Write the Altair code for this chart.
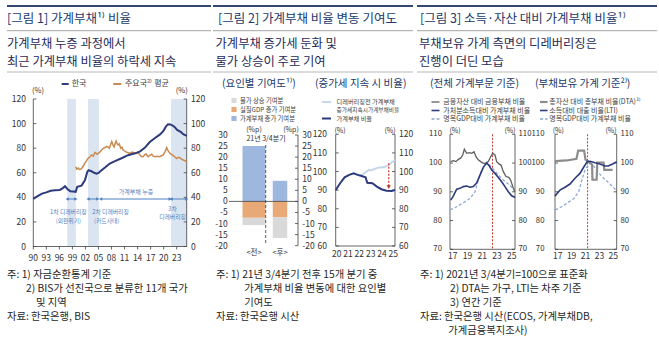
import altair as alt
import pandas as pd

FONT = "Noto Sans CJK KR"
NAVY = "#2d3b7c"
ORANGE = "#c98b50"
SHADE = "#dbe5f1"
ANN = "#4f7fbf"
BAR_BLUE = "#9db7df"
BAR_ORANGE = "#e9a977"
BAR_GRAY = "#d9d9d9"
LIGHT = "#c3d3ea"
RED = "#c0392b"
GRAY_DARK = "#5f5f5f"
GRAY_MID = "#8c8c8c"
DASH_BLUE = "#8fa9d6"
AX = "#404040"
AX_TXT = "#333333"
TITLE = "#213a6b"
SUB = "#1f2b57"
NOTE = "#262626"
LEG = "#404040"

# ---------------- data: panel 1 ----------------
kr_year = [1990.0, 1991.0, 1992.0, 1993.0, 1994.0, 1995.0, 1996.1, 1996.8, 1997.3, 1997.9,
           1998.5, 1999.2, 1999.75, 2000.1, 2001.1, 2001.9, 2002.4, 2002.7, 2003.4, 2004.0,
           2004.6, 2005.1, 2005.5, 2006.5, 2007.6, 2008.8, 2010.3, 2011.8, 2013.4, 2014.5,
           2015.7, 2016.8, 2018.0, 2019.1, 2019.9, 2020.5, 2021.0, 2021.5, 2021.9, 2022.5,
           2023.1, 2023.9, 2024.5, 2025.3]
kr_val = [38.7, 41.0, 43.0, 44.0, 45.3, 45.8, 46.0, 47.5, 49.0, 46.5,
          45.0, 44.8, 44.5, 48.5, 49.5, 54.0, 60.5, 62.0, 61.2, 60.0,
          59.3, 60.0, 61.5, 64.2, 67.5, 69.5, 71.8, 74.3, 75.8, 77.2,
          80.5, 85.0, 88.3, 91.0, 93.8, 97.5, 99.5, 99.3, 98.7, 97.3,
          94.8, 93.3, 91.3, 90.0]
adv_year = [1999.75, 2000.0, 2000.35, 2000.7, 2001.1, 2001.5, 2001.9, 2002.3, 2002.65, 2003.0,
            2003.4, 2003.8, 2004.2, 2004.7, 2005.0, 2005.35, 2005.7, 2006.1, 2006.5, 2006.9,
            2007.2, 2007.5, 2007.8, 2008.05, 2008.35, 2008.6, 2008.85, 2009.05, 2009.3, 2009.55,
            2009.8, 2010.1, 2010.4, 2010.7, 2011.1, 2011.5, 2011.9, 2012.25, 2012.7, 2013.2,
            2013.6, 2013.95, 2014.3, 2014.55, 2014.9, 2015.3, 2015.6, 2015.95, 2016.2, 2016.45,
            2016.8, 2017.25, 2017.6, 2018.0, 2018.5, 2019.0, 2019.5, 2019.9, 2020.3, 2020.7,
            2021.0, 2021.45, 2021.8, 2022.2, 2022.6, 2023.0, 2023.4, 2023.75, 2024.1, 2024.5,
            2024.9, 2025.3]
adv_val = [64.9, 63.0, 63.8, 62.5, 63.3, 65.5, 68.0, 70.0, 72.0, 72.8,
           74.5, 73.5, 76.5, 75.0, 76.0, 77.0, 78.5, 79.9, 80.5, 81.5,
           80.8, 79.9, 83.0, 85.3, 82.5, 81.0, 84.0, 85.8, 83.5, 82.6,
           83.5, 80.0, 80.8, 78.5, 77.5, 76.6, 76.2, 75.8, 76.8, 76.3,
           75.5, 76.6, 75.5, 74.5, 73.0, 73.1, 74.5, 75.2, 74.0, 73.1,
           74.2, 75.0, 73.5, 73.1, 73.5, 73.1, 73.8, 74.5, 77.0, 80.4,
           78.0, 75.8, 75.0, 73.9, 72.8, 71.5, 72.5, 72.3, 71.0, 70.4,
           69.8, 68.5]
delev_start = [1997.8, 2002.6, 2021.7]
delev_end = [1999.8, 2005.1, 2025.3]
arrow_start = [1997.8, 2002.6, 2005.5, 2021.75]
arrow_end = [1999.8, 2004.85, 2021.5, 2025.3]
p1_yticks = [0, 20, 40, 60, 80, 100, 120]
p1_xticks = [1990, 1993, 1996, 1999, 2002, 2005, 2008, 2011, 2014, 2017, 2020, 2023]
p1_xlabels = ["90", "93", "96", "99", "02", "05", "08", "11", "14", "17", "20", "23"]

# ---------------- data: panel 2 ----------------
bar_cat = ["<전>", "<후>"]
contrib_debt = [25.0, 9.3]
contrib_gdp = [-7.4, -7.2]
contrib_price = [-3.3, -9.3]
p2_bar_ticks = [30, 25, 20, 15, 10, 5, 0, -5, -10, -15, -20]

ratio_year = [2019.92, 2020.3, 2020.7, 2021.1, 2021.5, 2021.85, 2022.2, 2022.55, 2022.7, 2023.15,
              2023.55, 2023.95, 2024.4, 2024.85, 2025.15]
ratio_val = [90.1, 93.7, 96.9, 98.2, 99.1, 98.2, 97.6, 96.9, 94.0, 93.7,
             91.9, 90.5, 89.7, 89.6, 90.1]
cf_year = [2021.85, 2022.2, 2022.5, 2022.85, 2023.0, 2023.2, 2023.65, 2024.15, 2024.6, 2024.85, 2025.15]
cf_val = [98.4, 98.0, 99.4, 100.9, 100.5, 101.0, 102.1, 102.3, 103.5, 104.8, 106.2]
gap_year = [2024.6]
gap_from = [104.5]
gap_to = [91.6]
p2_line_ticks = [60, 70, 80, 90, 100, 110, 120]
p2_xticks = [2020, 2021, 2022, 2023, 2024, 2025]
p2_xlabels = ["20", "21", "22", "23", "24", "25"]

# ---------------- data: panel 3 ----------------
fin_year = [2016.73, 2017.08, 2017.45, 2017.76, 2018.08, 2018.36, 2018.58, 2018.9, 2019.25, 2019.58,
            2019.89, 2020.16, 2020.47, 2020.8, 2021.15, 2021.5, 2021.83, 2022.15, 2022.42, 2022.74,
            2022.96, 2023.28, 2023.55, 2023.86, 2024.23, 2024.6, 2024.86, 2025.22, 2025.45]
fin_val = [100.5, 100.8, 100.5, 101.3, 101.7, 102.8, 104.8, 103.4, 103.6, 103.4,
           103.9, 102.2, 101.1, 100.5, 99.9, 100.0, 100.5, 102.2, 103.4, 102.8,
           100.5, 99.7, 99.3, 97.0, 95.3, 95.0, 94.1, 91.2, 90.0]
dsi_year = [2016.73, 2017.08, 2017.54, 2017.99, 2018.44, 2018.9, 2019.35, 2019.79, 2020.25, 2020.7,
            2021.15, 2021.6, 2021.96, 2022.29, 2022.74, 2023.19, 2023.64, 2024.09, 2024.54, 2025.0,
            2025.45]
dsi_val = [87.1, 88.5, 90.9, 91.2, 91.8, 92.0, 91.6, 91.8, 93.0, 95.8,
           98.5, 100.1, 99.0, 97.6, 96.4, 95.0, 93.5, 91.8, 90.0, 88.6,
           88.0]
gdp_year = [2016.65, 2017.54, 2018.44, 2019.35, 2020.02, 2020.47, 2020.93, 2021.38, 2021.69, 2022.15,
            2022.6, 2023.19, 2023.78, 2024.4, 2025.0, 2025.45]
gdp_val = [83.7, 84.8, 86.2, 87.7, 90.0, 94.1, 97.6, 99.3, 99.9, 99.0,
           97.6, 95.8, 94.3, 93.0, 91.6, 90.4]
dta_year = [2016.6, 2018.3, 2019.7, 2019.95, 2020.8, 2021.0, 2021.5, 2021.95, 2022.0, 2022.6,
            2022.7, 2023.6, 2023.7, 2024.9]
dta_val = [100.7, 100.9, 101.5, 104.3, 104.3, 101.2, 100.3, 99.5, 94.2, 94.2,
           100.2, 100.2, 97.6, 97.6]
lti_year = [2016.6, 2017.33, 2018.05, 2018.77, 2019.49, 2020.2, 2020.78, 2021.26, 2021.65, 2022.37,
            2023.09, 2023.8, 2024.28, 2024.91, 2025.5]
lti_val = [88.5, 90.6, 91.6, 92.7, 94.7, 96.4, 98.7, 100.5, 100.6, 100.1,
           99.7, 99.0, 99.0, 99.7, 100.5]
ref_line_a = [2022.4]
ref_line_b = [2021.3]
p3_yticks = [70, 80, 90, 100, 110]
p3_xticks = [2017, 2019, 2021, 2023, 2025]
p3_xlabels = ["17", "19", "21", "23", "25"]

# ---------------- helpers ----------------
ONE = pd.DataFrame({"k": [0]})
layers = []


def add(c):
    layers.append(c)


def txt(s, x, y, size=10.5, color=NOTE, align="left", weight="normal"):
    add(alt.Chart(ONE).mark_text(text=s, font=FONT, fontSize=size, color=color, align=align,
                                 baseline="middle", fontWeight=weight)
        .encode(x=alt.value(x), y=alt.value(y)))


def hrule(x1, x2, y, color=AX, w=0.8, dash=None):
    kw = dict(color=color, strokeWidth=w)
    if dash:
        kw["strokeDash"] = dash
    add(alt.Chart(ONE).mark_rule(**kw).encode(x=alt.value(x1), x2=alt.value(x2), y=alt.value(y)))


def vrule(x, y1, y2, color=AX, w=0.8, dash=None):
    kw = dict(color=color, strokeWidth=w)
    if dash:
        kw["strokeDash"] = dash
    add(alt.Chart(ONE).mark_rule(**kw).encode(x=alt.value(x), y=alt.value(y1), y2=alt.value(y2)))


def qs(domain, rng):
    return alt.Scale(domain=domain, range=rng, nice=False, zero=False)


def series(years, vals, xsc, ysc, color, w=1.5, dash=None):
    df = pd.DataFrame({"t": years, "v": vals})
    kw = dict(color=color, strokeWidth=w)
    if dash:
        kw["strokeDash"] = dash
    add(alt.Chart(df).mark_line(**kw).encode(
        x=alt.X("t:Q", scale=xsc, axis=None), y=alt.Y("v:Q", scale=ysc, axis=None)))


def ylabels(ticks, ysc, x, align, size=8.5):
    df = pd.DataFrame({"v": ticks, "lab": [str(t) for t in ticks]})
    add(alt.Chart(df).mark_text(font=FONT, fontSize=size, color=AX_TXT, align=align, baseline="middle")
        .encode(x=alt.value(x), y=alt.Y("v:Q", scale=ysc, axis=None), text="lab:N"))


def yticks(ticks, ysc, x1, x2):
    df = pd.DataFrame({"v": ticks})
    add(alt.Chart(df).mark_rule(color=AX, strokeWidth=0.8).encode(
        x=alt.value(x1), x2=alt.value(x2), y=alt.Y("v:Q", scale=ysc, axis=None)))


def xlabels(ticks, labels, xsc, y, size=8.5):
    df = pd.DataFrame({"t": ticks, "lab": labels})
    add(alt.Chart(df).mark_text(font=FONT, fontSize=size, color=AX_TXT, align="center", baseline="middle")
        .encode(x=alt.X("t:Q", scale=xsc, axis=None), y=alt.value(y), text="lab:N"))


def xticks(ticks, xsc, y1, y2):
    df = pd.DataFrame({"t": ticks})
    add(alt.Chart(df).mark_rule(color=AX, strokeWidth=0.8).encode(
        x=alt.X("t:Q", scale=xsc, axis=None), y=alt.value(y1), y2=alt.value(y2)))


def header(x1, x2, tx, title, sx, sub1, sub2):
    hrule(x1, x2, 6, "#34486f", 2)
    txt(title, tx, 19, 12.5, TITLE)
    hrule(x1, x2, 30.7, "#8c8c8c", 0.8)
    txt(sub1, sx, 44.3, 12.3, SUB)
    txt(sub2, sx, 61.7, 12.3, SUB)
    hrule(x1, x2, 72, "#a6a6a6", 0.8)


# ================= PANEL 1 =================
header(7, 211, 7, "[그림 1] 가계부채¹⁾ 비율", 7, "가계부채 누증 과정에서", "최근 가계부채 비율의 하락세 지속")
p1x = qs([1990, 2025.3], [33.3, 186.7])
p1y = qs([0, 120], [246.5, 99])

shade_df = pd.DataFrame({"s": delev_start, "e": delev_end})
add(alt.Chart(shade_df).mark_rect(color=SHADE).encode(
    x=alt.X("s:Q", scale=p1x, axis=None), x2="e:Q", y=alt.value(99), y2=alt.value(246.5)))

# legend
hrule(61.7, 68.7, 84, NAVY, 2)
txt("한국", 71.7, 84, 8, LEG)
hrule(113.3, 121.3, 84, ORANGE, 2)
txt("주요국²⁾ 평균", 125, 84, 8, LEG)
txt("(%)", 38, 91, 7.5, AX_TXT, "center")
txt("(%)", 181.7, 91, 7.5, AX_TXT, "center")

# axes
vrule(33.3, 99, 246.5)
vrule(186.7, 99, 246.5)
hrule(33.3, 186.7, 246.5)
yticks(p1_yticks, p1y, 33.3, 36.3)
yticks(p1_yticks, p1y, 183.7, 186.7)
xticks(p1_xticks, p1x, 246.5, 249.5)
ylabels(p1_yticks, p1y, 26, "right")
ylabels(p1_yticks, p1y, 191, "left")
xlabels(p1_xticks, p1_xlabels, p1x, 258.3)

series(adv_year, adv_val, p1x, p1y, ORANGE, 1.5)
series(kr_year, kr_val, p1x, p1y, NAVY, 2)

# deleveraging arrows & notes
arr_df = pd.DataFrame({"s": arrow_start, "e": arrow_end})
add(alt.Chart(arr_df).mark_rule(color=ANN, strokeWidth=1).encode(
    x=alt.X("s:Q", scale=p1x, axis=None), x2="e:Q", y=alt.value(199)))
add(alt.Chart(arr_df).mark_point(shape="triangle-left", filled=True, size=14, color=ANN, opacity=1).encode(
    x=alt.X("s:Q", scale=p1x, axis=None), y=alt.value(199)))
add(alt.Chart(arr_df).mark_point(shape="triangle-right", filled=True, size=14, color=ANN, opacity=1).encode(
    x=alt.X("e:Q", scale=p1x, axis=None), y=alt.value(199)))
txt("가계부채 누증", 136, 191.5, 6, ANN, "center")
txt("1차 디레버리징", 68.3, 211.5, 5.8, ANN, "center")
txt("(외환위기)", 68.3, 220.5, 5.8, ANN, "center")
txt("2차 디레버리징", 110.5, 211.5, 5.8, ANN, "center")
txt("(카드사태)", 106.7, 220.5, 5.8, ANN, "center")
txt("3차", 172.5, 209, 5.8, ANN, "center")
txt("디레버리징", 172.5, 217, 5.8, ANN, "center")

# notes
txt("주: 1) 자금순환통계 기준", 7, 275, 10.3)
txt("2) BIS가 선진국으로 분류한 11개 국가", 26, 289, 10.3)
txt("및 지역", 36, 303, 10.3)
txt("자료: 한국은행, BIS", 7, 317, 10.3)

# ================= PANEL 2 =================
header(213, 413, 218, "[그림 2] 가계부채 비율 변동 기여도", 215.5, "가계부채 증가세 둔화 및", "물가 상승이 주로 기여")
txt("(요인별 기여도¹⁾)", 222, 84, 10.5, TITLE)
txt("(증가세 지속 시 비율)", 315, 84, 10.5, TITLE)

# bar legend
leg_parts = ["물가 상승 기여분", "실질GDP 증가 기여분", "가계부채 증가 기여분"]
for lab, col, yy in zip(leg_parts, [BAR_GRAY, BAR_ORANGE, BAR_BLUE], [100.5, 109.5, 118.5]):
    add(alt.Chart(ONE).mark_square(size=26, color=col, opacity=1).encode(x=alt.value(234), y=alt.value(yy)))
    txt(lab, 240, yy, 6.3, LEG)
# line legend
hrule(322, 331, 102, LIGHT, 1.8)
txt("디레버리징전 가계부채", 336.5, 102, 6.2, LEG)
txt("증가세지속시가계부채비율", 336.5, 109.5, 5.7, LEG)
hrule(322, 331, 118.5, NAVY, 2)
txt("가계부채 비율", 336.5, 118.5, 6.2, LEG)

# bar chart
p2by = qs([-20, 30], [245.7, 135])
bx = alt.Scale(type="band", domain=bar_cat, range=[241, 293], paddingInner=0, paddingOuter=0)
rows = []
for c, d, g, p in zip(bar_cat, contrib_debt, contrib_gdp, contrib_price):
    rows.append({"cat": c, "part": "debt", "lo": 0.0, "hi": d})
    rows.append({"cat": c, "part": "gdp", "lo": 0.0, "hi": g})
    rows.append({"cat": c, "part": "price", "lo": g, "hi": g + p})
bars_df = pd.DataFrame(rows)
for c, wpx in zip(bar_cat, [23, 14.5]):
    add(alt.Chart(bars_df).transform_filter(alt.datum.cat == c).mark_bar(size=wpx).encode(
        x=alt.X("cat:N", scale=bx, axis=None),
        y=alt.Y("lo:Q", scale=p2by, axis=None), y2="hi:Q",
        color=alt.Color("part:N", scale=alt.Scale(domain=["debt", "gdp", "price"],
                                                  range=[BAR_BLUE, BAR_ORANGE, BAR_GRAY]), legend=None)))
add(alt.Chart(pd.DataFrame({"v": [0]})).mark_rule(color=AX, strokeWidth=0.8).encode(
    x=alt.value(229), x2=alt.value(298), y=alt.Y("v:Q", scale=p2by, axis=None)))
vrule(298, 135, 245.7)
yticks(p2_bar_ticks, p2by, 295, 298)
vrule(265.7, 145, 243, "#333333", 0.8, [3, 2])
ylabels(p2_bar_ticks, p2by, 227.7, "right")
ylabels(p2_bar_ticks, p2by, 302.3, "left")
txt("(%p)", 254, 130, 7, AX_TXT, "center")
txt("(%p)", 291, 130, 7, AX_TXT, "center")
txt("21년 3/4분기", 266, 139, 7, AX_TXT, "center")
add(alt.Chart(pd.DataFrame({"cat": bar_cat})).mark_text(font=FONT, fontSize=7.5, color=AX_TXT, baseline="middle")
    .encode(x=alt.X("cat:N", scale=bx, axis=None), y=alt.value(253), text="cat:N"))

# line chart
p2x = qs([2020, 2025], [336.7, 393.3])
p2y = qs([60, 120], [246, 134.3])
vrule(335.7, 134.3, 246)
vrule(395, 134.3, 246)
hrule(335.7, 395, 246)
yticks(p2_line_ticks, p2y, 335.7, 338.7)
yticks(p2_line_ticks, p2y, 392, 395)
ylabels(p2_line_ticks, p2y, 327, "right")
ylabels(p2_line_ticks, p2y, 399, "left")
xlabels(p2_xticks, p2_xlabels, p2x, 254)
txt("(%)", 340, 131, 7, AX_TXT, "center")
txt("(%)", 390, 131, 7, AX_TXT, "center")
series(cf_year, cf_val, p2x, p2y, LIGHT, 1.8)
series(ratio_year, ratio_val, p2x, p2y, NAVY, 2)
gap_df = pd.DataFrame({"t": gap_year, "a": gap_from, "b": gap_to})
add(alt.Chart(gap_df).mark_rule(color=RED, strokeWidth=1.2, strokeDash=[2, 1.5]).encode(
    x=alt.X("t:Q", scale=p2x, axis=None), y=alt.Y("a:Q", scale=p2y, axis=None), y2="b:Q"))
add(alt.Chart(gap_df).mark_point(shape="triangle-down", filled=True, size=18, color=RED, opacity=1).encode(
    x=alt.X("t:Q", scale=p2x, axis=None), y=alt.Y("b:Q", scale=p2y, axis=None)))

txt("주: 1) 21년 3/4분기 전후 15개 분기 중", 216, 275, 10.3)
txt("가계부채 비율 변동에 대한 요인별", 244.3, 289, 10.3)
txt("기여도", 244.3, 303, 10.3)
txt("자료: 한국은행 시산", 216, 317, 10.3)

# ================= PANEL 3 =================
header(417, 657, 420, "[그림 3] 소득·자산 대비 가계부채 비율¹⁾", 419, "부채보유 가계 측면의 디레버리징은", "진행이 더딘 모습")
txt("(전체 가계부문 기준)", 430, 84, 10.5, TITLE)
txt("(부채보유 가계 기준²⁾)", 535, 84, 10.5, TITLE)

leg1 = ["금융자산 대비 금융부채 비율", "가처분소득대비 가계부채 비율", "명목GDP대비 가계부채 비율"]
leg2 = ["총자산 대비 총부채 비율(DTA)³⁾", "소득대비 대출 비율(LTI)", "명목GDP대비 가계부채 비율"]
sty1 = [(GRAY_DARK, 1.3, None), (NAVY, 1.6, None), (DASH_BLUE, 1.3, [3, 2])]
sty2 = [(GRAY_MID, 2.2, None), (NAVY, 1.6, None), (DASH_BLUE, 1.3, [3, 2])]
for lab, (col, w, d), yy in zip(leg1, sty1, [102, 110.5, 119]):
    hrule(431.5, 439.5, yy, col, w, d)
    txt(lab, 443.3, yy, 7, LEG)
for lab, (col, w, d), yy in zip(leg2, sty2, [102, 110.5, 119]):
    hrule(540, 547.5, yy, col, w, d)
    txt(lab, 549.3, yy, 7, LEG)

p3y = qs([70, 110], [249.3, 134.3])
p3xa = qs([2017, 2025], [452.7, 511.7])
p3xb = qs([2017, 2025], [557.7, 613.3])

# subplot A
vrule(450, 134.3, 249.3)
vrule(515, 134.3, 249.3)
hrule(450, 515, 249.3)
yticks(p3_yticks, p3y, 450, 453)
yticks(p3_yticks, p3y, 512, 515)
ylabels(p3_yticks, p3y, 442, "right", 7.8)
ylabels(p3_yticks, p3y, 518.5, "left", 7.8)
xlabels(p3_xticks, p3_xlabels, p3xa, 256)
txt("(%)", 455, 131, 7, AX_TXT, "center")
txt("(%)", 510, 131, 7, AX_TXT, "center")
add(alt.Chart(pd.DataFrame({"t": ref_line_a})).mark_rule(color=RED, strokeWidth=1, strokeDash=[2, 1.5]).encode(
    x=alt.X("t:Q", scale=p3xa, axis=None), y=alt.value(134.3), y2=alt.value(249.3)))
series(gdp_year, gdp_val, p3xa, p3y, DASH_BLUE, 1.3, [3, 2])
series(fin_year, fin_val, p3xa, p3y, GRAY_DARK, 1.3)
series(dsi_year, dsi_val, p3xa, p3y, NAVY, 1.6)

# subplot B
vrule(555, 134.3, 249.3)
vrule(616.7, 134.3, 249.3)
hrule(555, 616.7, 249.3)
yticks(p3_yticks, p3y, 555, 558)
yticks(p3_yticks, p3y, 613.7, 616.7)
ylabels(p3_yticks, p3y, 544.5, "right", 7.8)
ylabels(p3_yticks, p3y, 620.5, "left", 7.8)
xlabels(p3_xticks, p3_xlabels, p3xb, 256)
txt("(%)", 558.3, 131, 7, AX_TXT, "center")
txt("(%)", 611, 131, 7, AX_TXT, "center")
add(alt.Chart(pd.DataFrame({"t": ref_line_b})).mark_rule(color=RED, strokeWidth=1, strokeDash=[2, 1.5]).encode(
    x=alt.X("t:Q", scale=p3xb, axis=None), y=alt.value(134.3), y2=alt.value(249.3)))
series(gdp_year, gdp_val, p3xb, p3y, DASH_BLUE, 1.3, [3, 2])
series(dta_year, dta_val, p3xb, p3y, GRAY_MID, 2.2)
series(lti_year, lti_val, p3xb, p3y, NAVY, 1.6)

txt("주: 1) 2021년 3/4분기=100으로 표준화", 420, 275, 10.3)
txt("2) DTA는 가구, LTI는 차주 기준", 450, 289, 10.3)
txt("3) 연간 기준", 450, 303, 10.3)
txt("자료: 한국은행 시산(ECOS, 가계부채DB,", 420, 317, 10.3)
txt("가계금융복지조사)", 448.3, 331, 10.3)

chart = (
    alt.layer(*layers)
    .resolve_scale(x="independent", y="independent", color="independent")
    .properties(width=659, height=348, padding=0, autosize=alt.AutoSizeParams(type="none"),
                background="white")
    .configure_view(stroke=None)
)
chart.save("out.html", embed_options={"renderer": "svg", "actions": False})
